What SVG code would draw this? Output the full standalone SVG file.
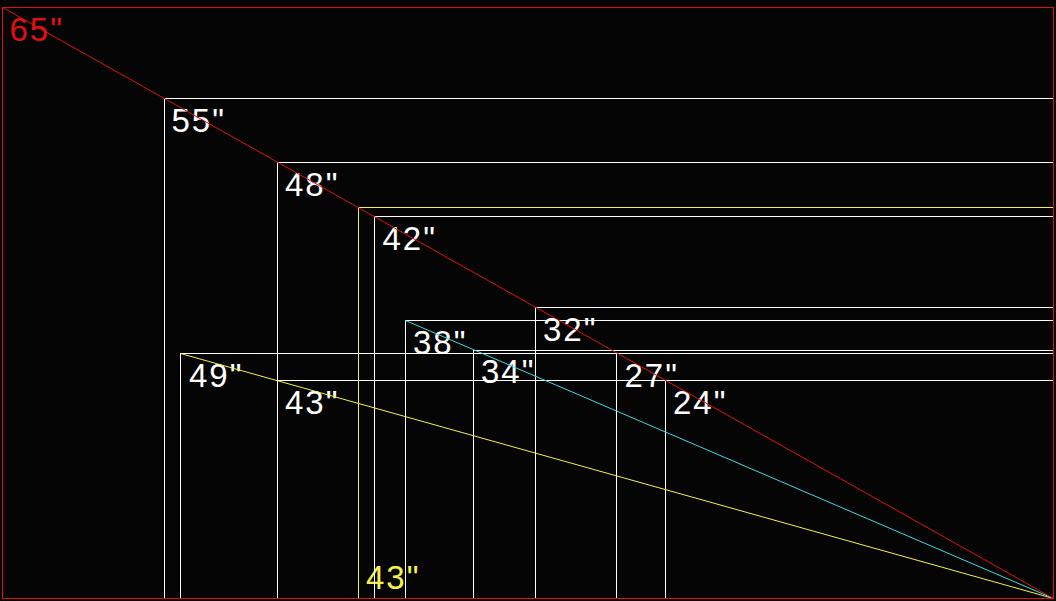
<svg xmlns="http://www.w3.org/2000/svg" width="1056" height="601" viewBox="0 0 1056 601">
<style>
.bg{fill:#050505}
.w{fill:none;stroke:#ffffff;stroke-width:1}
.y{fill:none;stroke:#f2f24a;stroke-width:1}
.r{fill:none;stroke:#e01010;stroke-width:1}
.c{fill:none;stroke:#40d8e0;stroke-width:1}
text{font-family:"Liberation Sans",Arial,sans-serif;font-size:33px;letter-spacing:2px}
.tw{fill:#ffffff}
.ty{fill:#f2f24a}
.tr{fill:#e01010}
</style>
<rect class="bg" x="0" y="0" width="1056" height="601"/>
<g id="tv55"><rect class="w" x="164.5" y="98.5" width="889" height="500"/><text class="tw" x="171.5" y="131.5">55"</text></g>
<g id="tv48"><rect class="w" x="277.5" y="162.5" width="776" height="436"/><text class="tw" x="285" y="196">48"</text></g>
<g id="tv43y"><rect class="y" x="358.5" y="207.5" width="695" height="391"/><text class="ty" x="366" y="589">43"</text></g>
<g id="tv42"><rect class="w" x="374.5" y="216.5" width="679" height="382"/><text class="tw" x="382.5" y="250">42"</text></g>
<g id="tv32"><rect class="w" x="535.5" y="307.5" width="518" height="291"/><text class="tw" x="543" y="340.5">32"</text></g>
<g id="tv38"><rect class="w" x="405.5" y="320.5" width="648" height="278"/><text class="tw" x="413" y="354">38"</text></g>
<g id="tv34"><rect class="w" x="473.5" y="350.5" width="580" height="248"/><text class="tw" x="481" y="383">34"</text></g>
<g id="tv27"><rect class="w" x="616.5" y="353.5" width="437" height="245"/><text class="tw" x="624.5" y="387">27"</text></g>
<g id="tv49"><rect class="w" x="180.5" y="353.5" width="873" height="245"/><text class="tw" x="189" y="387">49"</text></g>
<g id="tv43w"><rect class="w" x="277.5" y="380.5" width="776" height="218"/><text class="tw" x="285" y="414">43"</text></g>
<g id="tv24"><rect class="w" x="665.5" y="380.5" width="388" height="218"/><text class="tw" x="673" y="414">24"</text></g>
<g id="connectors">
<line class="y" x1="180.5" y1="353.5" x2="1053.5" y2="598.5"/>
<line class="c" x1="405.5" y1="320.5" x2="1053.5" y2="598.5"/>
<line class="r" x1="2.5" y1="7.5" x2="1053.5" y2="598.5"/>
</g>
<g id="tv65"><rect class="r" x="2.5" y="7.5" width="1051" height="591"/><text class="tr" x="9.5" y="41">65"</text></g>
</svg>
